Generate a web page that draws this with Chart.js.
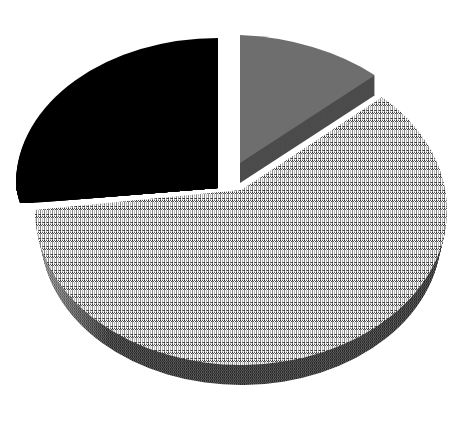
<!DOCTYPE html>
<html><head><meta charset="utf-8">
<style>html,body{margin:0;padding:0;background:#fff}canvas{display:block}</style>
<script src="https://cdn.jsdelivr.net/npm/chart.js@4"></script></head>
<body><canvas id="c" width="463" height="432"></canvas>
<script>
const categories = ['A', 'B', 'C'];
const values = [12, 63, 25];

function tile(w, h, shade) {
  const cv = document.createElement('canvas'); cv.width = w; cv.height = h;
  const x = cv.getContext('2d');
  for (let j = 0; j < h; j++) for (let i = 0; i < w; i++) {
    const v = shade(i, j); x.fillStyle = `rgb(${v},${v},${v})`; x.fillRect(i, j, 1, 1);
  }
  return x.createPattern(cv, 'repeat');
}
const topRows = [
  [40,250,90,255],
  [150,90,255,60],
  [135,250,190,255],
  [140,255,185,240],
  [130,245,195,255],
  [150,255,190,245],
  [45,255,110,70],
  [140,250,190,255]
];
const sideRows = [[40,95,45,85],[80,55,90,50],[45,90,40,80]];
const hatchTop = tile(4, 8, (i, j) => topRows[j][i]);
const hatchSide = tile(463, 3, (i, j) => {
  const base = sideRows[j][i % 4];
  const lift = i < 110 ? (110 - i) * 1.1 : 0;
  return Math.min(255, base + lift);
});

// how each slice is laid out in the tilted view
const views = [
  {cx:240, cy:163, a:197, b:8, d:128, drop:20, shrinkA:0, shrinkD:0, side:'#4c4c4c', lift:0},
  {cx:241, cy:210, a:206, b:0, d:155, drop:25, shrinkA:6, shrinkD:5, side:hatchSide, lift:20},
  {cx:218, cy:183, a:202, b:0, d:145, drop:20, shrinkA:0, shrinkD:0, side:'#000000', lift:0,
   clip:[[225,20],[225,188],[218,188],[20,204],[15,183],[0,100],[0,20]]}
];
const order = [2,0,1];

const tilt = {
  id:'tilt',
  beforeDatasetDraw(chart, args) {
    const ctx = chart.ctx, arcs = chart.getDatasetMeta(args.index).data;
    const R = arcs[0].outerRadius, ox = arcs[0].x, oy = arcs[0].y;
    order.forEach(i => {
      const v = views[i], arc = arcs[i], fill = arc.options.backgroundColor;
      const paint = (style, dy) => {
        const t = v.drop ? dy / v.drop : 0;
        const a = v.a - v.shrinkA * t, d = v.d - v.shrinkD * t;
        ctx.save();
        if (v.clip) { ctx.beginPath(); v.clip.forEach((p,k)=>k?ctx.lineTo(p[0],p[1]):ctx.moveTo(p[0],p[1])); ctx.closePath(); ctx.clip(); }
        const m = new DOMMatrix([a/R, v.b/R, 0, d/R, v.cx, v.cy+dy]).translate(-ox,-oy);
        ctx.setTransform(m);
        if (style instanceof CanvasPattern) style.setTransform(m.inverse());
        const saved = arc.options;
        arc.options = Object.assign(Object.create(saved), {backgroundColor:style, borderColor:style, borderWidth:0});
        arc.draw(ctx);
        arc.options = saved;
        ctx.restore();
        if (v.lift) {
          // wedge between the ellipse centre and the raised apex of the slice
          const pt2 = q => [v.cx + a*Math.cos(q), v.cy + dy + d*Math.sin(q)];
          const s = pt2(arc.startAngle), e = pt2(arc.endAngle);
          if (style instanceof CanvasPattern) style.setTransform(new DOMMatrix());
          ctx.save(); ctx.fillStyle = style; ctx.beginPath();
          ctx.moveTo(s[0],s[1]); ctx.lineTo(v.cx, v.cy+dy-v.lift); ctx.lineTo(e[0],e[1]); ctx.lineTo(v.cx,v.cy+dy); ctx.closePath(); ctx.fill(); ctx.restore();
        }
      };
      for (let d = v.drop; d >= 1; d--) paint(v.side, d);
      paint(fill, 0);
    });
    return false;
  }
};

new Chart(document.getElementById('c'), {
  type:'pie',
  data:{labels:categories, datasets:[{data:values, backgroundColor:['#6e6e6e', hatchTop, '#000000'], borderWidth:0}]},
  options:{responsive:false, devicePixelRatio:1, animation:false, layout:{padding:0},
    plugins:{legend:{display:false}, tooltip:{enabled:false}}},
  plugins:[tilt]
});
</script></body></html>
